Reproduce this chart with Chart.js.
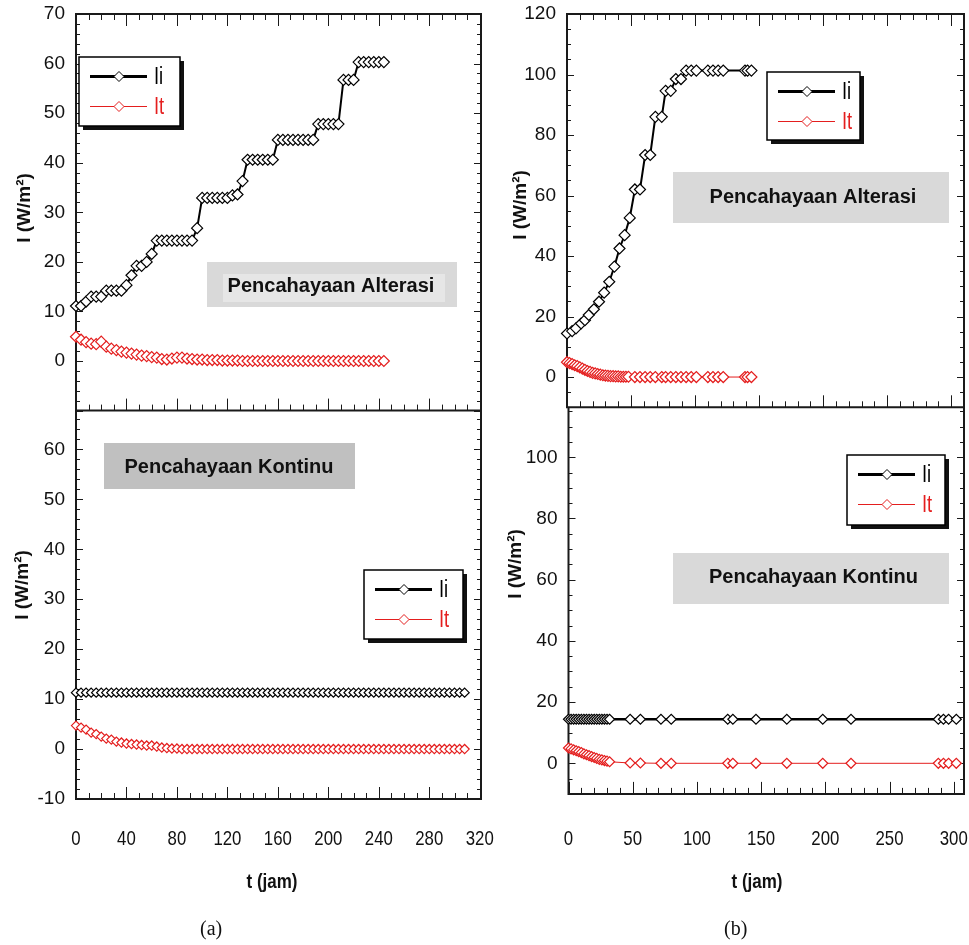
<!DOCTYPE html>
<html>
<head>
<meta charset="utf-8">
<script src="https://cdn.jsdelivr.net/npm/chart.js@4.4.0/dist/chart.umd.min.js"></script>
<style>
  body { margin: 0; background: #fff; }
  #page { position: relative; width: 969px; height: 945px; overflow: hidden; background: #fff; }
  .panel { position: absolute; }
  .cap { position: absolute; top: 917px; font: 20px "Liberation Serif", "Times New Roman", serif; color: #111; }
</style>
</head>
<body>
<div id="page">
  <div class="panel" style="left:0;top:400px;width:500px;height:545px"><canvas id="konA"></canvas></div>
  <div class="panel" style="left:486px;top:400px;width:483px;height:545px"><canvas id="konB"></canvas></div>
  <div class="panel" style="left:0;top:0;width:500px;height:412px"><canvas id="altA"></canvas></div>
  <div class="panel" style="left:486px;top:0;width:483px;height:412px"><canvas id="altB"></canvas></div>
  <div class="cap" style="left:200px">(a)</div>
  <div class="cap" style="left:724px">(b)</div>
</div>
<script>
// (a) pencahayaan alterasi: t in jam, I in W/m2
const tAltA = [0,4,8,12,16,20,24,28,32,36,40,44,48,52,56,60,64,68,72,76,80,84,88,92,96,100,104,108,112,116,120,124,128,132,136,140,144,148,152,156,160,164,168,172,176,180,184,188,192,196,200,204,208,212,216,220,224,228,232,236,240,244];
const iiAltA = [11.1,11.1,12.0,13.0,13.0,13.0,14.2,14.2,14.2,14.2,15.3,17.3,19.2,19.2,20.0,21.6,24.3,24.3,24.3,24.3,24.3,24.3,24.3,24.3,26.8,32.9,32.9,32.9,32.9,32.9,32.9,33.4,33.6,36.3,40.6,40.6,40.6,40.6,40.6,40.6,44.6,44.6,44.6,44.6,44.6,44.6,44.6,44.6,47.8,47.8,47.8,47.8,47.8,56.7,56.7,56.7,60.3,60.3,60.3,60.3,60.3,60.3];
const itAltA = [4.9,4.3,3.8,3.5,3.4,3.9,2.9,2.5,2.2,1.9,1.7,1.5,1.3,1.1,1.0,0.8,0.7,0.4,0.3,0.5,0.7,0.7,0.5,0.4,0.3,0.3,0.2,0.2,0.2,0.1,0.1,0.1,0.1,0,0,0,0,0,0,0,0,0,0,0,0,0,0,0,0,0,0,0,0,0,0,0,0,0,0,0,0,0];

// (a) pencahayaan kontinu
const tKonA = [0,4,8,12,16,20,24,28,32,36,40,44,48,52,56,60,64,68,72,76,80,84,88,92,96,100,104,108,112,116,120,124,128,132,136,140,144,148,152,156,160,164,168,172,176,180,184,188,192,196,200,204,208,212,216,220,224,228,232,236,240,244,248,252,256,260,264,268,272,276,280,284,288,292,296,300,304,308];
const iiKonA = [11.3,11.3,11.3,11.3,11.3,11.3,11.3,11.3,11.3,11.3,11.3,11.3,11.3,11.3,11.3,11.3,11.3,11.3,11.3,11.3,11.3,11.3,11.3,11.3,11.3,11.3,11.3,11.3,11.3,11.3,11.3,11.3,11.3,11.3,11.3,11.3,11.3,11.3,11.3,11.3,11.3,11.3,11.3,11.3,11.3,11.3,11.3,11.3,11.3,11.3,11.3,11.3,11.3,11.3,11.3,11.3,11.3,11.3,11.3,11.3,11.3,11.3,11.3,11.3,11.3,11.3,11.3,11.3,11.3,11.3,11.3,11.3,11.3,11.3,11.3,11.3,11.3,11.3];
const itKonA = [4.7,4.3,3.9,3.3,3.0,2.5,2.1,1.9,1.5,1.3,1.1,1.0,0.9,0.8,0.7,0.7,0.5,0.3,0.2,0.1,0.1,0,0,0,0,0,0,0,0,0,0,0,0,0,0,0,0,0,0,0,0,0,0,0,0,0,0,0,0,0,0,0,0,0,0,0,0,0,0,0,0,0,0,0,0,0,0,0,0,0,0,0,0,0,0,0,0,0];

// (b) pencahayaan alterasi
const tAltBi = [0,4,7,11,14,17,21,25,29,33,37,41,45,49,53,57,61,65,69,74,77,81,85,89,93,97,101,110,114,118,122,139,141,144];
const iiAltB = [14.4,15.2,16.1,17.7,18.8,20.5,22.4,24.9,27.9,31.5,36.5,42.5,46.9,52.6,62.0,62.0,73.4,73.4,86.0,86.0,94.6,94.6,98.5,98.5,101.3,101.3,101.3,101.3,101.3,101.3,101.3,101.3,101.3,101.3];
const tAltBt = [0,2,4,6,8,10,12,14,16,18,20,22,24,26,28,30,32,34,36,38,40,42,44,46,48,53,57,61,65,69,74,77,81,85,89,93,97,101,110,114,118,122,139,141,144];
const itAltB = [4.9,4.6,4.3,3.9,3.6,3.2,2.8,2.4,2.0,1.7,1.4,1.2,1.0,0.8,0.6,0.5,0.4,0.3,0.3,0.2,0.2,0.1,0.1,0.1,0.1,0,0,0,0,0,0,0,0,0,0,0,0,0,0,0,0,0,0,0,0];

// (b) pencahayaan kontinu
const tKonB = [0,2,4,6,8,10,12,14,16,18,20,22,24,26,28,30,32,48,56,72,80,124,128,146,170,198,220,288,292,296,302];
const iiKonB = [14.4,14.4,14.4,14.4,14.4,14.4,14.4,14.4,14.4,14.4,14.4,14.4,14.4,14.4,14.4,14.4,14.4,14.4,14.4,14.4,14.4,14.4,14.4,14.4,14.4,14.4,14.4,14.4,14.4,14.4,14.4];
const itKonB = [5.0,4.7,4.4,4.1,3.8,3.5,3.1,2.8,2.5,2.2,1.9,1.6,1.3,1.1,0.9,0.7,0.5,0.1,0.1,0,0,0,0,0,0,0,0,0,0,0,0];

// tick labels
const xTicksA = [0,40,80,120,160,200,240,280,320];
const xTicksB = [0,50,100,150,200,250,300];
const yTicksAltA = [0,10,20,30,40,50,60,70];
const yTicksKonA = [-10,0,10,20,30,40,50,60];
const yTicksAltB = [0,20,40,60,80,100,120];
const yTicksKonB = [0,20,40,60,80,100];

const RED = 'rgb(228,30,30)';
const SANS = '"Liberation Sans", Arial, Helvetica, sans-serif';

Chart.defaults.font.family = SANS;
Chart.defaults.color = '#111';
Chart.defaults.animation = false;

// text squeezed sideways, for the narrow axis lettering
function narrowText(ctx, text, x, y, sx) {
  ctx.save();
  ctx.translate(x, y);
  ctx.scale(sx, 1);
  ctx.fillText(text, 0, 0);
  ctx.restore();
}

// box frame with inward major/minor ticks, plus axis titles and x labels
const axisFrame = {
  id: 'axisFrame',
  beforeDatasetsDraw(chart, args, o) {
    const { ctx, chartArea: a, scales: { x, y } } = chart;
    const has = s => o.sides.includes(s);
    ctx.save();
    ctx.strokeStyle = '#1a1a1a';
    ctx.lineWidth = 1;
    ctx.beginPath();
    const x0 = Math.ceil(x.min / o.xMinor) * o.xMinor;
    for (let v = x0; v <= x.max + 1e-6; v += o.xMinor) {
      const px = Math.round(x.getPixelForValue(v)) + 0.5;
      const len = Math.abs(v % o.xMajor) < 1e-6 ? 12 : 6;
      if (has('bottom')) { ctx.moveTo(px, a.bottom); ctx.lineTo(px, a.bottom - len); }
      if (has('top')) { ctx.moveTo(px, a.top); ctx.lineTo(px, a.top + len); }
    }
    const y0 = Math.ceil(y.min / o.yMinor) * o.yMinor;
    for (let v = y0; v <= y.max + 1e-6; v += o.yMinor) {
      const py = Math.round(y.getPixelForValue(v)) + 0.5;
      const len = Math.abs(v % o.yMajor) < 1e-6 ? 7 : 4;
      ctx.moveTo(a.left, py); ctx.lineTo(a.left + len, py);
      ctx.moveTo(a.right, py); ctx.lineTo(a.right - len, py);
    }
    ctx.stroke();
    ctx.lineWidth = 2;
    ctx.beginPath();
    ctx.moveTo(a.left, a.top); ctx.lineTo(a.left, a.bottom);
    ctx.moveTo(a.right, a.top); ctx.lineTo(a.right, a.bottom);
    ctx.moveTo(a.left - 1, a.bottom); ctx.lineTo(a.right + 1, a.bottom);
    if (has('top')) { ctx.moveTo(a.left - 1, a.top); ctx.lineTo(a.right + 1, a.top); }
    ctx.stroke();

    ctx.fillStyle = '#111';
    ctx.textAlign = 'center';
    ctx.textBaseline = 'middle';
    ctx.font = 'bold 19px ' + SANS;
    ctx.save();
    ctx.translate(o.yTitle[0], o.yTitle[1]);
    ctx.rotate(-Math.PI / 2);
    ctx.fillText('I (W/m²)', 0, 0);
    ctx.restore();
    if (o.xTitle) {
      ctx.font = 'bold 20px ' + SANS;
      narrowText(ctx, 't (jam)', o.xTitle[0], o.xTitle[1], 0.85);
      ctx.font = '21px ' + SANS;
      x.ticks.forEach(t => {
        narrowText(ctx, String(t.value), x.getPixelForValue(t.value), o.xLabelY, 0.8);
      });
    }
    ctx.restore();
  }
};

// shaded caption box inside the plot
const noteBox = {
  id: 'noteBox',
  beforeDatasetsDraw(chart, args, o) {
    if (!o.text) return;
    const { ctx } = chart;
    ctx.save();
    ctx.fillStyle = o.fill || 'rgba(0,0,0,0.15)';
    ctx.fillRect(o.box[0], o.box[1], o.box[2], o.box[3]);
    if (o.inner) {
      ctx.fillStyle = 'rgba(255,255,255,0.34)';
      ctx.fillRect(o.inner[0], o.inner[1], o.inner[2], o.inner[3]);
    }
    ctx.font = 'bold 20px ' + SANS;
    ctx.fillStyle = '#111';
    ctx.textAlign = 'center';
    ctx.textBaseline = 'middle';
    ctx.fillText(o.text, o.at[0], o.at[1]);
    ctx.restore();
  }
};

// legend box with drop shadow, line + diamond sample per dataset
const boxLegend = {
  id: 'boxLegend',
  afterDatasetsDraw(chart, args, o) {
    const { ctx } = chart;
    const [lx, ly, w, h] = o.box;
    ctx.save();
    ctx.fillStyle = '#111';
    ctx.fillRect(lx + 4, ly + 4, w, h);
    ctx.fillStyle = '#fff';
    ctx.fillRect(lx, ly, w, h);
    ctx.strokeStyle = '#000';
    ctx.lineWidth = 1.5;
    ctx.strokeRect(lx, ly, w, h);
    chart.data.datasets.forEach((ds, i) => {
      const yy = Math.round(ly + 19 + i * 30) + 0.5;
      ctx.strokeStyle = ds.borderColor;
      ctx.lineWidth = i === 0 ? 3 : 1;
      ctx.beginPath();
      ctx.moveTo(lx + 11, yy); ctx.lineTo(lx + 68, yy);
      ctx.stroke();
      const cx = lx + 40, r = 5;
      ctx.beginPath();
      ctx.moveTo(cx, yy - r); ctx.lineTo(cx + r, yy); ctx.lineTo(cx, yy + r); ctx.lineTo(cx - r, yy);
      ctx.closePath();
      ctx.fillStyle = '#fff';
      ctx.fill();
      ctx.lineWidth = 1;
      ctx.stroke();
      ctx.fillStyle = ds.borderColor;
      ctx.font = '23px ' + SANS;
      ctx.textAlign = 'left';
      ctx.textBaseline = 'middle';
      narrowText(ctx, ds.label, lx + 75, yy + 1, 0.8);
    });
    ctx.restore();
  }
};

function series(label, t, v, color, width, r) {
  return {
    label,
    data: t.map((x, i) => ({ x, y: v[i] })),
    borderColor: color,
    borderWidth: width,
    pointStyle: 'rectRot',
    pointRadius: r,
    pointBackgroundColor: '#fff',
    pointBorderColor: color,
    pointBorderWidth: 1.2,
    tension: 0,
    clip: false
  };
}

function makePanel(id, p) {
  return new Chart(document.getElementById(id), {
    type: 'line',
    data: {
      datasets: [
        series('Ii', p.tIi, p.ii, '#000', p.iiWidth, p.r),
        series('It', p.tIt, p.it, RED, 1, p.r)
      ]
    },
    options: {
      responsive: true,
      maintainAspectRatio: false,
      events: [],
      layout: { padding: p.pad, autoPadding: false },
      plugins: {
        legend: { display: false },
        tooltip: { enabled: false },
        axisFrame: p.frame,
        noteBox: p.note,
        boxLegend: p.legend
      },
      scales: {
        x: {
          type: 'linear',
          min: p.xRange[0],
          max: p.xRange[1],
          display: p.showX,
          grid: { display: false, drawTicks: false },
          border: { display: false },
          afterBuildTicks: s => { s.ticks = p.xTicks.map(value => ({ value })); },
          afterFit: s => { s.height = p.xHeight; s.paddingLeft = 0; s.paddingRight = 0; },
          ticks: { display: false, autoSkip: false, maxRotation: 0, minRotation: 0 }
        },
        y: {
          type: 'linear',
          min: p.yRange[0],
          max: p.yRange[1],
          grid: { display: false, drawTicks: false },
          border: { display: false },
          afterBuildTicks: s => { s.ticks = p.yTicks.map(value => ({ value })); },
          afterFit: s => { s.width = p.yWidth; s.paddingTop = 0; s.paddingBottom = 0; },
          ticks: { padding: 11, font: { size: 19 }, color: '#111' }
        }
      }
    },
    plugins: [axisFrame, noteBox, boxLegend]
  });
}

makePanel('konA', {
  tIi: tKonA, ii: iiKonA, tIt: tKonA, it: itKonA, iiWidth: 1.5, r: 4.6,
  xRange: [0, 321], yRange: [-10, 67.7], xTicks: xTicksA, yTicks: yTicksKonA,
  showX: true, xHeight: 146, yWidth: 76,
  pad: { left: 0, top: 11, right: 19, bottom: 0 },
  frame: { sides: ['bottom', 'left', 'right'], xMinor: 10, xMajor: 40, yMinor: 2, yMajor: 10,
           yTitle: [22.5, 185], xTitle: [272, 482], xLabelY: 439 },
  note: { text: 'Pencahayaan Kontinu', box: [104, 43, 251, 46], at: [229, 67], fill: '#c0c0c0' },
  legend: { box: [364, 170, 99, 69] }
});

makePanel('konB', {
  tIi: tKonB, ii: iiKonB, tIt: tKonB, it: itKonB, iiWidth: 2.5, r: 5,
  xRange: [0, 308], yRange: [-10, 116.1], xTicks: xTicksB, yTicks: yTicksKonB,
  showX: true, xHeight: 151.1, yWidth: 82.5,
  pad: { left: 0, top: 8, right: 5, bottom: 0 },
  frame: { sides: ['bottom', 'left', 'right'], xMinor: 10, xMajor: 50, yMinor: 5, yMajor: 20,
           yTitle: [30, 164], xTitle: [271, 482], xLabelY: 439 },
  note: { text: 'Pencahayaan Kontinu', box: [187, 153, 276, 51], at: [327.5, 177] },
  legend: { box: [361, 55, 98, 70] }
});

makePanel('altA', {
  tIi: tAltA, ii: iiAltA, tIt: tAltA, it: itAltA, iiWidth: 2, r: 5.5,
  xRange: [0, 321], yRange: [-10, 70], xTicks: xTicksA, yTicks: yTicksAltA,
  showX: false, xHeight: 0, yWidth: 76,
  pad: { left: 0, top: 14, right: 19, bottom: 1.4 },
  frame: { sides: ['top', 'bottom', 'left', 'right'], xMinor: 10, xMajor: 40, yMinor: 2, yMajor: 10,
           yTitle: [25, 208] },
  note: { text: 'Pencahayaan Alterasi', box: [207, 262, 250, 45], inner: [223, 274, 222, 28], at: [331, 286] },
  legend: { box: [79, 57, 101, 69] }
});

makePanel('altB', {
  tIi: tAltBi, ii: iiAltB, tIt: tAltBt, it: itAltB, iiWidth: 2, r: 5.5,
  xRange: [0, 310], yRange: [-10, 120], xTicks: xTicksB, yTicks: yTicksAltB,
  showX: false, xHeight: 0, yWidth: 81,
  pad: { left: 0, top: 14, right: 5, bottom: 4.7 },
  frame: { sides: ['top', 'bottom', 'left', 'right'], xMinor: 10, xMajor: 50, yMinor: 5, yMajor: 20,
           yTitle: [35, 205] },
  note: { text: 'Pencahayaan Alterasi', box: [187, 172, 276, 51], at: [327, 197] },
  legend: { box: [281, 72, 93, 68] }
});
</script>
</body>
</html>
